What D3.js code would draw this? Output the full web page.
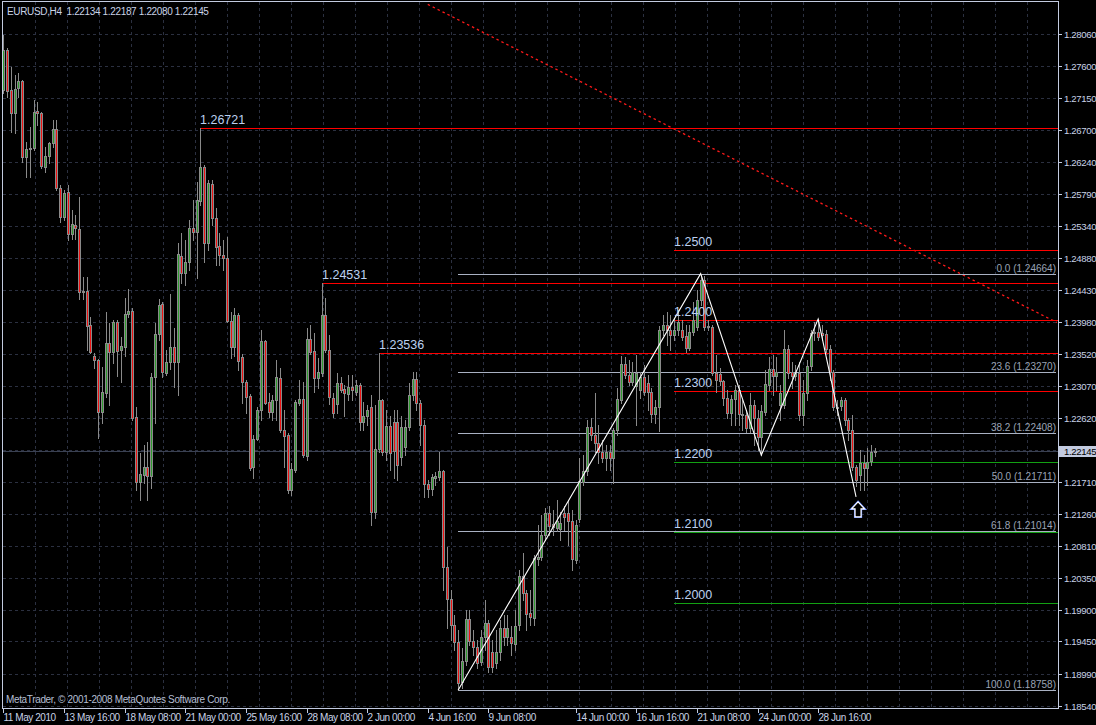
<!DOCTYPE html>
<html><head><meta charset="utf-8">
<script src="https://cdn.jsdelivr.net/npm/d3@7"></script>
<style>
html,body{margin:0;padding:0;background:#000;}
svg{display:block;}
text{font-family:"Liberation Sans",Arial,sans-serif;}
</style></head><body>
<svg id="c" width="1096" height="725"></svg>
<script>
// ---------------- DATA ----------------
const titleText = "EURUSD,H4  1.22134 1.22187 1.22080 1.22145";
const copyrightText = "MetaTrader, \u00A9 2001-2008 MetaQuotes Software Corp.";
const currentPrice = 1.22145;

// H4 candles [open, high, low, close]
const candles = [
[1.2727,1.2805,1.2722,1.2783],[1.2783,1.2786,1.2717,1.2725],[1.2727,1.2759,1.2667,1.2694],[1.2694,1.2748,1.2666,1.2728],
[1.2729,1.2751,1.2717,1.2739],[1.2739,1.2741,1.2625,1.2632],[1.2632,1.2653,1.2603,1.2643],[1.2643,1.2674,1.2603,1.2645],
[1.2645,1.2712,1.2642,1.2695],[1.2697,1.2710,1.2677,1.2694],[1.2694,1.2695,1.2616,1.2619],[1.2618,1.2646,1.2610,1.2633],
[1.2633,1.2653,1.2623,1.2652],[1.2652,1.2684,1.2646,1.2671],[1.2671,1.2684,1.2585,1.2588],[1.2588,1.2592,1.2540,1.2547],
[1.2547,1.2585,1.2543,1.2581],[1.2582,1.2592,1.2514,1.2523],[1.2523,1.2557,1.2516,1.2537],[1.2535,1.2550,1.2516,1.2531],
[1.2530,1.2575,1.2431,1.2440],[1.2440,1.2462,1.2431,1.2442],[1.2442,1.2462,1.2358,1.2392],[1.2394,1.2405,1.2354,1.2355],
[1.2350,1.2354,1.2333,1.2344],[1.2344,1.2346,1.2234,1.2270],[1.2270,1.2334,1.2255,1.2299],[1.2297,1.2412,1.2292,1.2368],
[1.2368,1.2397,1.2280,1.2355],[1.2355,1.2400,1.2340,1.2398],[1.2398,1.2401,1.2321,1.2357],[1.2358,1.2377,1.2313,1.2364],
[1.2362,1.2432,1.2350,1.2409],[1.2409,1.2445,1.2405,1.2414],[1.2414,1.2418,1.2259,1.2262],[1.2263,1.2277,1.2160,1.2171],
[1.2171,1.2212,1.2146,1.2183],[1.2181,1.2224,1.2170,1.2192],[1.2192,1.2228,1.2146,1.2180],[1.2180,1.2326,1.2163,1.2320],
[1.2320,1.2397,1.2255,1.2381],[1.2381,1.2431,1.2373,1.2422],[1.2423,1.2426,1.2320,1.2327],[1.2326,1.2358,1.2323,1.2341],
[1.2341,1.2438,1.2331,1.2362],[1.2362,1.2389,1.2306,1.2341],[1.2341,1.2510,1.2294,1.2494],[1.2491,1.2524,1.2453,1.2467],
[1.2467,1.2514,1.2450,1.2483],[1.2483,1.2542,1.2472,1.2531],[1.2531,1.2571,1.2514,1.2525],[1.2525,1.2596,1.2460,1.2571],
[1.2569,1.26721,1.2564,1.2618],[1.2618,1.2620,1.2483,1.2510],[1.2510,1.2599,1.2500,1.2595],[1.2593,1.2599,1.2535,1.2545],
[1.2545,1.2559,1.2479,1.2504],[1.2506,1.2524,1.2479,1.2493],[1.2493,1.2514,1.2472,1.2489],[1.2489,1.2518,1.2398,1.2399],
[1.2399,1.2412,1.2347,1.2362],[1.2362,1.2418,1.2350,1.2408],[1.2408,1.2411,1.2330,1.2343],[1.2348,1.2353,1.2283,1.2313],
[1.2313,1.2316,1.2269,1.2292],[1.2293,1.2296,1.2188,1.2191],[1.2192,1.2238,1.2177,1.2232],[1.2232,1.2277,1.2231,1.2273],
[1.2273,1.2387,1.2259,1.2371],[1.2371,1.2372,1.2282,1.2283],[1.2285,1.2297,1.2263,1.2270],[1.2270,1.2294,1.2259,1.2287],
[1.2287,1.2344,1.2259,1.2320],[1.2319,1.2333,1.2242,1.2245],[1.2245,1.2273,1.2192,1.2236],[1.2238,1.2241,1.2156,1.2160],
[1.2160,1.2198,1.2153,1.2190],[1.2188,1.2287,1.2185,1.2285],[1.2283,1.2316,1.2280,1.2289],[1.2289,1.2313,1.2207,1.2209],
[1.2208,1.2389,1.2202,1.2374],[1.2374,1.2394,1.2353,1.2355],[1.2357,1.2382,1.2299,1.2319],[1.2319,1.2347,1.2304,1.2327],
[1.2326,1.24531,1.2321,1.2408],[1.2408,1.2432,1.2355,1.2358],[1.2358,1.2379,1.2282,1.2292],[1.2290,1.2297,1.2263,1.2269],
[1.2282,1.2326,1.2269,1.2311],[1.2311,1.2320,1.2299,1.2302],[1.2303,1.2309,1.2265,1.2297],[1.2296,1.2323,1.2287,1.2306],
[1.2306,1.2323,1.2287,1.2302],[1.2299,1.2316,1.2294,1.2309],[1.2309,1.2312,1.2245,1.2256],[1.2256,1.2285,1.2245,1.2265],
[1.2265,1.2280,1.2252,1.2273],[1.2277,1.2294,1.2110,1.2129],[1.2129,1.2280,1.2120,1.2218],[1.2218,1.23536,1.2214,1.2287],
[1.2287,1.2289,1.2209,1.2214],[1.2214,1.2273,1.2202,1.2251],[1.2251,1.2265,1.2188,1.2212],[1.2256,1.2273,1.2177,1.2215],
[1.2256,1.2273,1.2174,1.2195],[1.2207,1.2265,1.2195,1.2249],[1.2221,1.2259,1.2209,1.2249],[1.2249,1.2311,1.2245,1.2294],
[1.2294,1.2327,1.2287,1.2317],[1.2317,1.2327,1.2273,1.2283],[1.2283,1.2287,1.2224,1.2252],[1.2252,1.2259,1.2150,1.2168],
[1.2168,1.2174,1.2150,1.2161],[1.2161,1.2183,1.2153,1.2178],[1.2177,1.2185,1.2167,1.2180],[1.2178,1.2214,1.2174,1.2187],
[1.2187,1.2188,1.2018,1.2051],[1.2051,1.2079,1.1964,1.2005],[1.2005,1.2018,1.1947,1.1969],[1.1969,1.1983,1.1933,1.1944],
[1.1944,1.1961,1.18758,1.1886],[1.1888,1.1936,1.1879,1.1917],[1.1917,1.1990,1.1911,1.1977],[1.1977,1.1990,1.1940,1.1946],
[1.1946,1.1961,1.1926,1.1937],[1.1937,1.1947,1.1908,1.1915],[1.1916,1.1961,1.1911,1.1951],[1.1951,1.2004,1.1933,1.1971],
[1.1971,1.1976,1.1902,1.1909],[1.1930,1.1947,1.1902,1.1909],[1.1915,1.1961,1.1908,1.1930],[1.1930,1.1976,1.1919,1.1964],
[1.1964,1.1983,1.1940,1.1951],[1.1951,1.1983,1.1940,1.1964],[1.1951,1.1967,1.1926,1.1943],[1.1942,1.1990,1.1933,1.1967],
[1.1969,1.2046,1.1961,1.2038],[1.2038,1.2071,1.2004,1.2014],[1.2014,1.2018,1.1961,1.1984],[1.1986,1.2018,1.1969,1.1980],
[1.1979,1.2068,1.1969,1.2064],[1.2062,1.2110,1.2054,1.2065],[1.2065,1.2124,1.2061,1.2096],[1.2096,1.2134,1.2089,1.2127],
[1.2127,1.2137,1.2096,1.2109],[1.2112,1.2132,1.2096,1.2107],[1.2106,1.2146,1.2101,1.2116],[1.2105,1.2129,1.2089,1.2113],
[1.2127,1.2137,1.2103,1.2122],[1.2127,1.2146,1.2082,1.2116],[1.2116,1.2132,1.2047,1.2062],[1.2061,1.2117,1.2056,1.2110],
[1.2119,1.2205,1.2115,1.2173],[1.2171,1.2209,1.2167,1.2187],[1.2187,1.2259,1.2181,1.2249],[1.2249,1.2262,1.2231,1.2238],
[1.2238,1.2297,1.2214,1.2227],[1.2227,1.2252,1.2198,1.2214],[1.2214,1.2231,1.2200,1.2205],[1.2205,1.2224,1.2188,1.2214],
[1.2214,1.2224,1.2188,1.2205],[1.2205,1.2248,1.2170,1.2245],[1.2245,1.2304,1.2238,1.2289],[1.2287,1.2350,1.2283,1.2338],
[1.2338,1.2348,1.2319,1.2323],[1.2323,1.2344,1.2309,1.2313],[1.2313,1.2341,1.2309,1.2327],[1.2307,1.2351,1.2252,1.2326],
[1.2302,1.2327,1.2290,1.2320],[1.2320,1.2337,1.2294,1.2299],[1.2311,1.2323,1.2273,1.2299],[1.2299,1.2304,1.2256,1.2267],
[1.2267,1.2287,1.2255,1.2277],[1.2277,1.2392,1.2243,1.2387],[1.2387,1.2408,1.2380,1.2394],[1.2394,1.2412,1.2365,1.2387],
[1.2387,1.2408,1.2358,1.2380],[1.2380,1.2404,1.2373,1.2387],[1.2387,1.2415,1.2380,1.2398],[1.2387,1.2401,1.2373,1.2377],
[1.2378,1.2394,1.2355,1.2361],[1.2361,1.2394,1.2358,1.2384],[1.2384,1.2426,1.2380,1.2401],[1.2391,1.2443,1.2387,1.2429],
[1.2429,1.24664,1.2422,1.2457],[1.2457,1.2463,1.2387,1.2391],[1.2392,1.2401,1.2387,1.2391],[1.2391,1.2394,1.2323,1.2326],
[1.2326,1.2351,1.2299,1.2316],[1.2324,1.2333,1.2309,1.2314],[1.2314,1.2316,1.2280,1.2290],[1.2290,1.2302,1.2262,1.2269],
[1.2269,1.2294,1.2252,1.2289],[1.2289,1.2309,1.2252,1.2302],[1.2302,1.2309,1.2252,1.2267],[1.2267,1.2287,1.2245,1.2266],
[1.2266,1.2273,1.2242,1.2248],[1.2248,1.2297,1.2242,1.2280],[1.2280,1.2287,1.2224,1.2262],[1.2262,1.2273,1.2217,1.2235],
[1.2235,1.2280,1.2209,1.2272],[1.2270,1.2330,1.2266,1.2310],[1.2309,1.2348,1.2302,1.2331],[1.2331,1.2351,1.2294,1.2321],
[1.2321,1.2348,1.2302,1.2327],[1.2280,1.2309,1.2259,1.2297],[1.2280,1.2387,1.2276,1.2360],[1.2360,1.2365,1.2319,1.2326],
[1.2327,1.2341,1.2304,1.2321],[1.2321,1.2337,1.2316,1.2326],[1.2326,1.2341,1.2259,1.2266],[1.2266,1.2316,1.2252,1.2297],
[1.2297,1.2344,1.2287,1.2336],[1.2336,1.2387,1.2330,1.2382],[1.2382,1.2398,1.2373,1.2384],[1.2384,1.2402,1.2373,1.2377],
[1.2382,1.2394,1.2373,1.2380],[1.2381,1.2387,1.2355,1.2360],[1.2360,1.2365,1.2316,1.2327],[1.2327,1.2330,1.2273,1.2277],
[1.2277,1.2287,1.2266,1.2276],[1.2279,1.2292,1.2273,1.2287],[1.2287,1.2290,1.2252,1.2259],[1.2259,1.2262,1.2231,1.2245],
[1.2245,1.2266,1.2188,1.2192],[1.2192,1.2195,1.2165,1.2174],[1.2181,1.2216,1.2160,1.2198],[1.2198,1.2209,1.2160,1.2191],
[1.2191,1.2219,1.2167,1.2200],[1.2201,1.2224,1.2195,1.2214],[1.22134,1.22187,1.22080,1.22145]
];

// price axis labels
const priceTickLabels = ["1.28060","1.27600","1.27150","1.26700","1.26240","1.25790","1.25340","1.24880","1.24430","1.23980","1.23520","1.23070","1.22620","1.21710","1.21260","1.20810","1.20350","1.19900","1.19450","1.18990","1.18540"];
const hiddenGridPrice = [1.22165];
// time axis labels (bar index)
const timeTickBars = [0,16,32,48,64,80,96,112,128,151,167,183,199,215];
const timeTickLabels = ["11 May 2010","13 May 16:00","18 May 08:00","21 May 00:00","25 May 16:00","28 May 08:00","2 Jun 00:00","4 Jun 16:00","9 Jun 08:00","14 Jun 00:00","16 Jun 16:00","21 Jun 08:00","24 Jun 00:00","28 Jun 16:00"];

// swing-level horizontal lines (red)
const swingPrices = [1.26721, 1.24531, 1.23536];
const swingBars = [52, 84, 99];
const swingLabels = ["1.26721","1.24531","1.23536"];

// round-number lines
const roundPrices = [1.2500, 1.2400, 1.2300, 1.2200, 1.2100, 1.2000];
const roundLabels = ["1.2500","1.2400","1.2300","1.2200","1.2100","1.2000"];
const roundKinds = ["res","res","res","sup","sup","sup"];
const roundStartBar = 177;

// Fibonacci retracement
const fibLevels = [0.0, 23.6, 38.2, 50.0, 61.8, 100.0];
const fibPrices = [1.24664, 1.23270, 1.22408, 1.21711, 1.21014, 1.18758];
const fibStartBar = 120;

// zig-zag pattern drawn on chart
const zigBars = [120, 184, 200, 215, 225];
const zigPrices = [1.18758, 1.24664, 1.2209, 1.2402, 1.2150];

// dotted trendline anchors
const trendBars = [112, 278];
const trendPrices = [1.2848, 1.23971];

// arrow
const arrowBar = 225;
const arrowPrice = 1.2143;

// ---------------- DRAW ----------------
const svg = d3.select("#c");
const L = 3, R = 1058, T = 2, B = 708;
const x = d3.scaleLinear().domain([0, 230]).range([3.3, 875]);
const y = d3.scaleLinear().domain([1.18540, 1.28060]).range([705.7, 34]);

svg.append("rect").attr("width",1096).attr("height",725).attr("fill","#000");
svg.append("defs").append("clipPath").attr("id","plot")
  .append("rect").attr("x",L).attr("y",T).attr("width",R-L).attr("height",B-T);

const gridColor = "#2b3040";
const g = svg.append("g");
// horizontal grid
const gridPrices = priceTickLabels.map(Number).concat(hiddenGridPrice);
g.selectAll("line.hg").data(gridPrices).enter().append("line")
  .attr("x1",L).attr("x2",R)
  .attr("y1",d=>Math.round(y(d))+0.5).attr("y2",d=>Math.round(y(d))+0.5)
  .attr("stroke",gridColor).attr("stroke-dasharray","3,3");
// vertical grid (pixel based)
g.selectAll("line.vg").data(d3.range(35, R-4, 32)).enter().append("line")
  .attr("x1",d=>d+0.5).attr("x2",d=>d+0.5).attr("y1",T).attr("y2",B)
  .attr("stroke",gridColor).attr("stroke-dasharray","3,3");

const plot = svg.append("g").attr("clip-path","url(#plot)");

// bid line
plot.append("line").attr("x1",L).attr("x2",R)
  .attr("y1",Math.round(y(currentPrice))+0.5).attr("y2",Math.round(y(currentPrice))+0.5)
  .attr("stroke","#3a4152");

// dotted red trendline
plot.append("line")
  .attr("x1",x(trendBars[0])).attr("y1",y(trendPrices[0]))
  .attr("x2",x(trendBars[1])).attr("y2",y(trendPrices[1]))
  .attr("stroke","#ff1a1a").attr("stroke-width",1.3).attr("stroke-dasharray","2.5,3");

// fib lines
fibPrices.forEach((p,i)=>{
  const yy = Math.round(y(p))+0.5;
  plot.append("line").attr("x1",Math.round(x(fibStartBar))).attr("x2",R-2)
    .attr("y1",yy).attr("y2",yy).attr("stroke","#a9b1c2");
  svg.append("text").attr("x",R-2).attr("y",yy-3).attr("text-anchor","end")
    .attr("font-size","10px").attr("fill","#9aa3b5")
    .text(fibLevels[i].toFixed(1)+" ("+p.toFixed(5)+")");
});

// swing red lines
swingPrices.forEach((p,i)=>{
  const yy = Math.round(y(p))+0.5;
  const xs = Math.round(x(swingBars[i]));
  plot.append("line").attr("x1",xs).attr("x2",R).attr("y1",yy).attr("y2",yy)
    .attr("stroke","#ff0000").attr("stroke-width",1.2);
  svg.append("text").attr("x",xs).attr("y",yy-5).attr("font-size","12.5px")
    .attr("fill","#bcd0f0").text(swingLabels[i]);
});

// round-number lines
roundPrices.forEach((p,i)=>{
  const yy = Math.round(y(p))+0.5;
  const xs = Math.round(x(roundStartBar));
  svg.append("text").attr("x",xs).attr("y",yy-5).attr("font-size","12.5px")
    .attr("fill","#bcd0f0").text(roundLabels[i]);
  plot.append("line").attr("x1",xs).attr("x2",R).attr("y1",yy).attr("y2",yy)
    .attr("stroke", roundKinds[i]==="res" ? "#ff0000" : "#13a013").attr("stroke-width",1.2);
});

// candles
const cg = plot.append("g");
candles.forEach((c,i)=>{
  const [o,h,l,cl] = c;
  const cx = Math.round(x(i));
  cg.append("line").attr("x1",cx+0.5).attr("x2",cx+0.5)
    .attr("y1",Math.round(y(h))).attr("y2",Math.round(y(l))+1)
    .attr("stroke","#8a8a8a");
  const top = Math.round(y(Math.max(o,cl)));
  const bot = Math.max(Math.round(y(Math.min(o,cl))), top+1);
  cg.append("rect").attr("x",cx-1).attr("y",top).attr("width",3).attr("height",bot-top+1)
    .attr("fill","#8a8a8a");
  if (bot-top >= 2) {
    cg.append("rect").attr("x",cx).attr("y",top+1).attr("width",1).attr("height",bot-top-1)
      .attr("fill", cl>=o ? "#2f9a2f" : "#ee1111");
  }
});

// zigzag
const zl = d3.line().x(d=>x(d[0])).y(d=>y(d[1]));
plot.append("path").datum(zigBars.map((b,i)=>[b,zigPrices[i]]))
  .attr("d",zl).attr("fill","none").attr("stroke","#ffffff").attr("stroke-width",1.1);

// arrow
const ax = x(arrowBar)+2, ay = y(arrowPrice);
const arrowPath = `M${ax},${ay} L${ax+6.5},${ay+7} L${ax+3},${ay+7} L${ax+3},${ay+15} L${ax-3},${ay+15} L${ax-3},${ay+7} L${ax-6.5},${ay+7} Z`;
plot.append("path").attr("d",arrowPath).attr("fill","#000").attr("stroke","#5a7cff").attr("stroke-width",2.2);
plot.append("path").attr("d",arrowPath).attr("fill","#000").attr("stroke","#ffffff").attr("stroke-width",1.2);

// borders
const axisColor = "#c3cbe0";
svg.append("line").attr("x1",2.5).attr("x2",2.5).attr("y1",1).attr("y2",B+0.5).attr("stroke",axisColor);
svg.append("line").attr("x1",R+0.5).attr("x2",R+0.5).attr("y1",1).attr("y2",B+0.5).attr("stroke",axisColor);
svg.append("line").attr("x1",2).attr("x2",R+1).attr("y1",1.5).attr("y2",1.5).attr("stroke",axisColor);
svg.append("line").attr("x1",2).attr("x2",R+1).attr("y1",B+0.5).attr("y2",B+0.5).attr("stroke",axisColor);

// price axis
const axText = "#c9d3e6";
priceTickLabels.forEach(t=>{
  const yy = Math.round(y(+t))+0.5;
  svg.append("line").attr("x1",R).attr("x2",R+4).attr("y1",yy).attr("y2",yy).attr("stroke",axisColor);
  svg.append("text").attr("x",R+6).attr("y",yy+3.5).attr("font-size","9.6px")
    .attr("letter-spacing","-0.35px").attr("fill",axText).text(t);
});
// current price box
const cy = Math.round(y(currentPrice));
svg.append("rect").attr("x",R+1).attr("y",cy-5).attr("width",37).attr("height",11).attr("fill","#c3cbe0");
svg.append("text").attr("x",R+6).attr("y",cy+3.5).attr("font-size","9.6px")
  .attr("letter-spacing","-0.35px").attr("fill","#000").text(currentPrice.toFixed(5));

// time axis
timeTickBars.forEach((b,i)=>{
  const xx = Math.round(x(b))+0.5;
  svg.append("line").attr("x1",xx).attr("x2",xx).attr("y1",B).attr("y2",B+5).attr("stroke",axisColor);
  svg.append("text").attr("x",xx).attr("y",721).attr("font-size","10px")
    .attr("letter-spacing","-0.45px").attr("fill",axText).text(timeTickLabels[i]);
});

// title and copyright
svg.append("text").attr("x",7).attr("y",15).attr("font-size","10px").attr("letter-spacing","-0.35px")
  .attr("fill",axText).attr("xml:space","preserve").style("white-space","pre").text(titleText);
svg.append("text").attr("x",6).attr("y",703).attr("font-size","10px").attr("letter-spacing","-0.35px")
  .attr("fill","#b5bfd3").text(copyrightText);
</script>
</body></html>
